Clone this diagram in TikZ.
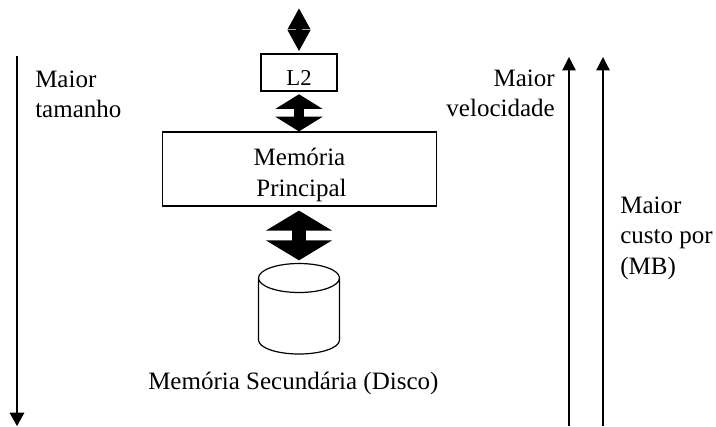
\documentclass[tikz,border=0pt]{standalone}
\usepackage{fontspec}
\setmainfont{Liberation Serif}
\usepackage{tikz}
\usetikzlibrary{positioning}
\usetikzlibrary{arrows.meta}
\newcommand{\labelfont}{\fontsize{18.75pt}{22.6pt}\selectfont}
\tikzset{
  x=0.75pt,y=-0.75pt,
  membox/.style={draw,line width=0.9pt,inner sep=0pt,align=center},
  memlabel/.style={inner sep=0pt,font=\labelfont},
  thin arrow/.style={line width=0.9pt,-{Triangle[width=10pt,length=10pt]}},
}
\begin{document}
\begin{tikzpicture}
\useasboundingbox (0,0) rectangle (716,426);
\node (l2) [membox,minimum width=57pt,minimum height=27.75pt,text height=20pt,text depth=0pt,font=\fontsize{17pt}{17pt}\selectfont] at (299,72.5) {L2};
\node (main) [membox,minimum width=206pt,minimum height=55.5pt,font=\labelfont] at (299.5,169) {\rule{0pt}{22pt}Mem\'oria\\\hspace*{3pt}Principal};
\coordinate (disktop) at (299,263);
\coordinate (top) at (299,8);
\coordinate (downstart) at (17,56);
\coordinate (downend) at (17,426);
\coordinate (upastart) at (569,426);
\coordinate (upaend) at (569,57);
\coordinate (upbstart) at (603,426);
\coordinate (upbend) at (603,57);
% disk
\draw[line width=0.9pt] (258.5,278) arc[start angle=180,end angle=-180,x radius=40.5,y radius=14.5]
  -- (258.5,340) arc[start angle=180,end angle=0,x radius=40.5,y radius=14] -- (339.5,278);
% bidirectional arrows
\draw[line width=4pt,shorten >=1.5pt,{Triangle[width=16pt,length=16pt]}-{Triangle[width=16pt,length=16pt]}] (top) -- (l2.north);
\draw[line width=7.5pt,shorten <=2pt,{Triangle[width=35pt,length=11pt]}-{Triangle[width=35pt,length=11pt]}] (l2.south) -- (main.north -| l2.south);
\draw[line width=10pt,shorten <=3pt,shorten >=2pt,{Triangle[width=49pt,length=15pt]}-{Triangle[width=49pt,length=15pt]}] (main.south -| disktop) -- (disktop);
% side arrows
\draw[line width=0.9pt,-{Triangle[width=11pt,length=10pt]}] (downstart) -- (downend);
\draw[thin arrow] (upastart) -- (upaend);
\draw[thin arrow] (upbstart) -- (upbend);
\node (caption) [memlabel,anchor=base west] at (148,389) {Mem\'oria Secund\'aria (Disco)};
\node (size) [memlabel,align=left,anchor=north west] at (35,70.5) {Maior\\tamanho};
\node (speed) [memlabel,align=right,anchor=north east] at (555,70) {Maior\\velocidade};
\node (cost) [memlabel,align=left,anchor=north west] at (620,197) {Maior\\custo por\\(MB)};
\end{tikzpicture}
\end{document}
